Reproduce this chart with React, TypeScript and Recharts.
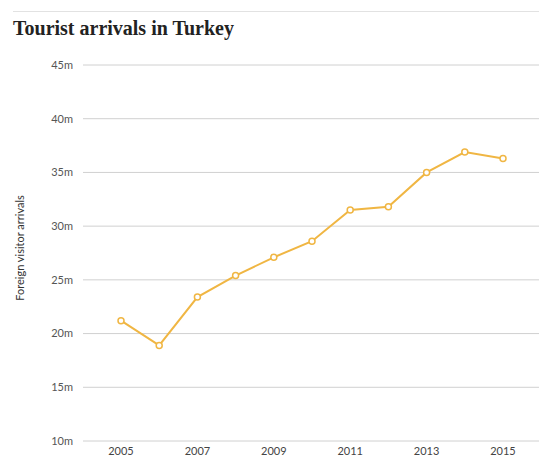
import React from "react";
import { LineChart, Line, XAxis, YAxis, CartesianGrid } from "recharts";

const years = ["2005", "2006", "2007", "2008", "2009", "2010", "2011", "2012", "2013", "2014", "2015"];
const arrivals = [21.2, 18.9, 23.4, 25.4, 27.1, 28.6, 31.5, 31.8, 35.0, 36.9, 36.3];
const yTicks = [10, 15, 20, 25, 30, 35, 40, 45];
const xTicks = ["2005", "2007", "2009", "2011", "2013", "2015"];

const data = years.map((y, i) => ({ year: y, value: arrivals[i] }));

const COLOR = "#f0b643";
const FONT = "Lato, 'Open Sans', sans-serif";

export default function App() {
  return (
    <div style={{ position: "absolute", left: 0, top: 0, width: 539, height: 456, background: "#fff" }}>
      <div style={{ position: "absolute", left: 13, top: 11, width: 526, height: 1, background: "#e2e2e2" }} />
      <div
        style={{
          position: "absolute",
          left: 13,
          top: 17,
          fontFamily: "'Liberation Serif', 'DejaVu Serif', serif",
          fontWeight: 700,
          fontSize: 20,
          color: "#222",
          whiteSpace: "nowrap",
          letterSpacing: 0,
        }}
      >
        Tourist arrivals in Turkey
      </div>
      <div style={{ position: "absolute", left: 0, top: 0 }}>
        <LineChart width={539} height={456} data={data} margin={{ top: 65, right: 0, bottom: 0, left: 0 }}>
          <CartesianGrid vertical={false} stroke="#d0d0d0" strokeWidth={1} />
          <XAxis
            dataKey="year"
            ticks={xTicks}
            interval={0}
            axisLine={false}
            tickLine={false}
            tickSize={0}
            tickMargin={6}
            height={15}
            padding={{ left: 38, right: 36 }}
            tick={{ fill: "#444", fontSize: 11, fontFamily: FONT }}
          />
          <YAxis
            domain={[10, 45]}
            ticks={yTicks}
            width={83}
            axisLine={false}
            tickLine={false}
            tickSize={0}
            tickMargin={10}
            tickFormatter={(v: number) => `${v}m`}
            tick={{ fill: "#555", fontSize: 11, fontFamily: FONT }}
            label={{
              content: (props: any) => {
                const vb = props.viewBox || {};
                const cy = (vb.y ?? 65) + (vb.height ?? 376) / 2 - 5;
                return (
                  <text
                    x={24}
                    y={cy}
                    transform={`rotate(-90, 24, ${cy})`}
                    textAnchor="middle"
                    fill="#333"
                    fontSize={11}
                    fontFamily={FONT}
                  >
                    Foreign visitor arrivals
                  </text>
                );
              },
            }}
          />
          <Line
            type="linear"
            dataKey="value"
            stroke={COLOR}
            strokeWidth={2}
            dot={{ r: 3, fill: "#fff", stroke: COLOR, strokeWidth: 1.5 }}
            activeDot={false}
            isAnimationActive={false}
          />
        </LineChart>
      </div>
    </div>
  );
}
